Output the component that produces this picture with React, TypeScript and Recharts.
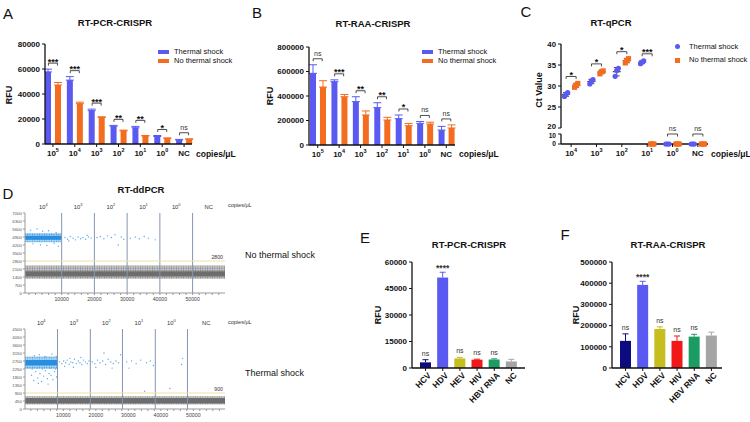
import React from "react";
import {
  BarChart,
  Bar,
  Cell,
  ComposedChart,
  Line,
  XAxis,
  YAxis,
  ErrorBar,
  ScatterChart,
  Scatter,
  ReferenceArea,
  ReferenceLine,
} from "recharts";

const FONT = '"Liberation Sans", Arial, Helvetica, sans-serif';
const INK = "#111";
const BLUE = "#5a5af2";
const ORANGE = "#f36c1f";

// A / B - dilution series, thermal shock vs no thermal shock
const dilutions = ["10^5", "10^4", "10^3", "10^2", "10^1", "10^0", "NC"];

const pcrThermal = [57700, 51100, 26700, 14300, 13000, 6000, 3200];
const pcrThermalSd = [2200, 2800, 1200, 600, 1100, 800, 500];
const pcrNoThermal = [47200, 32300, 21200, 10600, 6400, 4500, 3700];
const pcrNoThermalSd = [2000, 1200, 600, 500, 400, 400, 500];
const pcrSig = ["***", "***", "***", "**", "**", "*", "ns"];
const pcrTicks = [0, 20000, 40000, 60000, 80000];

const raaThermal = [585000, 517000, 354000, 305000, 215000, 177000, 122000];
const raaThermalSd = [70000, 15000, 40000, 40000, 30000, 15000, 30000];
const raaNoThermal = [473000, 394000, 245000, 204000, 158000, 171000, 139000];
const raaNoThermalSd = [52000, 18000, 33000, 22000, 18000, 15000, 25000];
const raaSig = ["ns", "***", "**", "**", "*", "ns", "ns"];
const raaTicks = [0, 200000, 400000, 600000, 800000];

// C - RT-qPCR Ct values, three replicates each
const qpcrCats = ["10^4", "10^3", "10^2", "10^1", "10^0", "NC"];
const qpcrThermal = [
  [27.5, 28.1, 28.4],
  [30.5, 31.2, 31.5],
  [32.3, 33.7, 34.2],
  [35.3, 35.7, 36.0],
  [0, 0, 0],
  [0, 0, 0],
];
const qpcrNoThermal = [
  [29.7, 30.2, 30.6],
  [32.9, 33.4, 33.6],
  [35.5, 36.1, 36.5],
  [0, 0, 0],
  [0, 0, 0],
  [0, 0, 0],
];
const qpcrSig = ["*", "*", "*", "***", "ns", "ns"];
const qpcrUpperTicks = [20, 25, 30, 35, 40];
const qpcrLowerTicks = [0, 10];

// D - RT-ddPCR droplet plots
const ddWellLabels = ["10^4", "10^3", "10^2", "10^1", "10^0", "NC"];
const ddXLabels = [10000, 20000, 30000, 40000, 50000];

const ddTopYTicks = [0, 700, 1400, 2100, 2800, 3500, 4200, 4900, 5600, 6300, 7000];
const ddTopDomain = [-1200, 59900];
const ddTopWells = [10000, 20000, 30000, 40000, 50000];
const ddTopThreshold = 2800;
const ddTopNeg = [1450, 1900];
const ddTopNegHalo = [1250, 2400];
const ddTopPos = [4650, 5000];
const ddTopPosHalo = [4450, 5250];
const ddTopDroplets = [
  [500, 5500], [2500, 5600], [4200, 5400], [6000, 5450], [8300, 5300],
  [1200, 4300], [3500, 4200], [5500, 4150], [7700, 4350], [9000, 4100],
  [11000, 4850], [11800, 4700], [12600, 4950], [13500, 4800], [14200, 4650],
  [15000, 4900], [15800, 4750], [16500, 4850], [17300, 4700], [18200, 4900],
  [19000, 4800], [12200, 4550], [17800, 5050], [20800, 4850], [21800, 4950],
  [22900, 4750], [24000, 5000], [25200, 4850], [26300, 5100], [27300, 4200],
  [28200, 4900], [29000, 4700], [31000, 4800], [32500, 4900], [33700, 4750],
  [35200, 4950], [36500, 4800], [38600, 4650],
];

const ddBotYTicks = [0, 450, 900, 1350, 1800, 2250, 2700, 3150, 3600, 4050, 4500];
const ddBotDomain = [-1800, 59750];
const ddBotWells = [8200, 18300, 28200, 38300, 48200];
const ddBotThreshold = 900;
const ddBotNeg = [330, 620];
const ddBotNegHalo = [250, 720];
const ddBotPos = [2450, 2750];
const ddBotPosHalo = [2250, 2950];
const ddBotDroplets = [
  [200, 1900], [900, 1600], [1500, 2100], [2100, 1750], [2800, 2000],
  [3300, 1550], [3900, 1850], [4500, 2150], [5100, 1700], [5600, 2000],
  [6200, 1900], [6800, 1650], [7300, 2100], [7900, 1800], [400, 2250],
  [1800, 2300], [3600, 2250], [5900, 2300], [7600, 2250], [1100, 3000],
  [2600, 3050], [4400, 2950], [6500, 3100], [7800, 2950], [2300, 1450],
  [5300, 1400], [8800, 2650], [9500, 2550], [10100, 2700], [10700, 2600],
  [11200, 2750], [11800, 2500], [12300, 2650], [12900, 2600], [13400, 2800],
  [14000, 2550], [14600, 2700], [15100, 2600], [15700, 2500], [16200, 2750],
  [16800, 2650], [17400, 2550], [17900, 2700], [10400, 2400], [13100, 2350],
  [15400, 2900], [12000, 2850], [18900, 2650], [19700, 2550], [20500, 2750],
  [21300, 2600], [22100, 2700], [23000, 2500], [23800, 2800], [24600, 2650],
  [25400, 2550], [26200, 2700], [27000, 2600], [27600, 3050], [22500, 3150],
  [25000, 2300], [20000, 2350], [29500, 2650], [31000, 2700], [32400, 2550],
  [33800, 2750], [35000, 1000], [35600, 2600], [36800, 2700], [37700, 2450],
  [30200, 2300], [42800, 1150], [46400, 2500], [46700, 2850],
];

// E / F - specificity
const viruses = ["HCV", "HDV", "HEV", "HIV", "HBV RNA", "NC"];
const virusColors = ["#0c0c80", "#5a5af2", "#c6bd1e", "#f01818", "#1b9c63", "#a5a5a5"];
const specSig = ["ns", "****", "ns", "ns", "ns", ""];
const pcrSpecMean = [3200, 51200, 5400, 4700, 4800, 3700];
const pcrSpecSd = [1500, 3000, 600, 300, 400, 1200];
const pcrSpecTicks = [0, 15000, 30000, 45000, 60000];
const raaSpecMean = [128000, 392000, 184000, 128000, 148000, 153000];
const raaSpecSd = [33000, 17000, 10000, 23000, 11000, 16000];
const raaSpecTicks = [0, 100000, 200000, 300000, 400000, 500000];

const Txt = ({ x, y, size = 9, bold = false, rotate = 0, anchor = "middle", color = INK, children }: any) => (
  <div
    style={{
      position: "absolute",
      left: x,
      top: y,
      transform: `translate(${anchor === "middle" ? "-50%" : anchor === "end" ? "-100%" : "0"},-50%)${rotate ? ` rotate(${rotate}deg)` : ""}`,
      fontSize: size,
      fontWeight: bold ? 700 : 400,
      color,
      whiteSpace: "nowrap",
      lineHeight: 1,
    }}
  >
    {children}
  </div>
);

const PowText = ({ x, y, label, size = 8, weight = 700, fill = INK }: any) => {
  const [base, exp] = String(label).split("^");
  return (
    <text x={x} y={y} textAnchor="middle" fontSize={size} fontWeight={weight} fill={fill}>
      {base}
      {exp !== undefined && (
        <tspan dy={-size * 0.45} fontSize={size * 0.68}>
          {exp}
        </tspan>
      )}
    </text>
  );
};

const axisLine = { stroke: INK, strokeWidth: 1.3 };
const tickLine = { stroke: INK, strokeWidth: 1 };
const yTick = { fontSize: 8, fontWeight: 700, fill: INK };

// y tick with a small vertical nudge for selected values (broken axis in C)
const nudgedTick = (size: number, nudge: Record<number, number>) => (p: any) => (
  <text x={p.x} y={p.y + (nudge[p.payload.value] || 0)} dy="0.355em" textAnchor="end" fontSize={size} fontWeight={700} fill={INK}>
    {p.payload.value}
  </text>
);

const sigMark = (offset: number, hw: number) => (props: any) => {
  const { cx, cy, payload, index } = props;
  if (cx == null || cy == null || !payload || !payload.sig) return <g key={`s${index}`} />;
  const y = cy - offset;
  const ns = payload.sig === "ns";
  return (
    <g key={`s${index}`}>
      <path d={`M${cx - hw},${y + 2.5}V${y}H${cx + hw}V${y + 2.5}`} fill="none" stroke="#222" strokeWidth={0.8} />
      <text x={cx} y={ns ? y - 3 : y + 1.5} textAnchor="middle" fontSize={ns ? 7 : 9} fontWeight={ns ? 400 : 700} fill={ns ? "#333" : INK}>
        {payload.sig}
      </text>
    </g>
  );
};

const pairRows = (t: number[], tSd: number[], n: number[], nSd: number[], sig: string[]) =>
  dilutions.map((cat, i) => ({
    cat,
    t: t[i],
    tErr: [0, tSd[i]],
    n: n[i],
    nErr: [0, nSd[i]],
    top: Math.max(t[i] + tSd[i], n[i] + nSd[i]),
    sig: sig[i],
  }));

const catTick = (props: any) => <PowText x={props.x} y={props.y + 7} label={props.payload.value} size={8} />;

function PairChart({ rows, ticks, yWidth, marginTop, marginRight, xHeight, pad }: any) {
  return (
    <ComposedChart width={250} height={165} data={rows} margin={{ top: marginTop, right: marginRight, bottom: 0, left: 0 }}>
      <XAxis dataKey="cat" height={xHeight} padding={{ left: pad, right: pad }} interval={0} tick={catTick} tickSize={3} axisLine={axisLine} tickLine={tickLine} />
      <YAxis width={yWidth} domain={[0, ticks[ticks.length - 1]]} ticks={ticks} interval={0} tick={yTick} tickSize={3} axisLine={axisLine} tickLine={tickLine} />
      <Bar dataKey="t" fill={BLUE} barSize={6} isAnimationActive={false}>
        <ErrorBar dataKey="tErr" width={4} stroke={BLUE} strokeWidth={1} direction="y" />
      </Bar>
      <Bar dataKey="n" fill={ORANGE} barSize={6} isAnimationActive={false}>
        <ErrorBar dataKey="nErr" width={4} stroke={ORANGE} strokeWidth={1} direction="y" />
      </Bar>
      <Line dataKey="top" stroke="none" dot={sigMark(6, 4.5)} activeDot={false} isAnimationActive={false} />
    </ComposedChart>
  );
}

const Legend2 = ({ x, y, square }: any) => (
  <>
    {square ? (
      <>
        <div style={{ position: "absolute", left: x - 2.5, top: y - 2.5, width: 5, height: 5, borderRadius: 3, background: BLUE }} />
        <div style={{ position: "absolute", left: x - 2.5, top: y + 13.3 - 2.5, width: 5, height: 5, background: ORANGE }} />
      </>
    ) : (
      <>
        <div style={{ position: "absolute", left: x, top: y - 2, width: 11, height: 4, background: BLUE }} />
        <div style={{ position: "absolute", left: x, top: y + 7, width: 11, height: 4, background: ORANGE }} />
      </>
    )}
    <Txt x={square ? x + 12 : x + 16} y={y} size={7.5} anchor="start">Thermal shock</Txt>
    <Txt x={square ? x + 12 : x + 16} y={square ? y + 13.3 : y + 9} size={7.5} anchor="start">No thermal shock</Txt>
  </>
);

// panel C helpers
const Q_OFF = 0.2;
const qPoints = (groups: number[][], off: number, keep: (v: number) => boolean) =>
  groups.flatMap((reps, i) => reps.map((v, j) => ({ x: i + off, y: v, rep: j }))).filter((p) => keep(p.y));
const qMeans = (groups: number[][], off: number) =>
  groups
    .map((reps, i) => {
      const m = reps.reduce((a, b) => a + b, 0) / reps.length;
      const sd = Math.sqrt(reps.reduce((a, b) => a + (b - m) * (b - m), 0) / (reps.length - 1));
      return { x: i + off, y: m, sd };
    })
    .filter((p) => p.y >= 20);
const qUpperSig = qpcrCats
  .map((_, i) => ({ x: i, y: Math.max(...qpcrThermal[i], ...qpcrNoThermal[i]), sig: qpcrSig[i] }))
  .filter((p) => p.y >= 20);
const qLowerSig = qpcrCats
  .map((_, i) => ({ x: i, y: qpcrLowerTicks[1], sig: qpcrSig[i], hi: Math.max(...qpcrThermal[i], ...qpcrNoThermal[i]) }))
  .filter((p) => p.hi < 20);

const circleShape = (p: any) => <circle cx={p.cx + (p.payload.rep - 1) * 1.6} cy={p.cy} r={2.6} fill={BLUE} />;
const squareShape = (p: any) => (
  <rect x={p.cx - 2.6 + (p.payload.rep - 1) * 1.6} y={p.cy - 2.6} width={5.2} height={5.2} fill={ORANGE} />
);
const meanShape = (p: any) => <line x1={p.cx - 4} x2={p.cx + 4} y1={p.cy} y2={p.cy} stroke="#222" strokeWidth={1} />;
const qTick = (props: any) => <PowText x={props.x} y={props.y + 7} label={qpcrCats[props.payload.value]} size={8} />;
const Q_DOMAIN = [-0.4, 5.4];

function QpcrUpper() {
  return (
    <ScatterChart width={250} height={136} margin={{ top: 44, right: 42, bottom: 8, left: 0 }}>
      <XAxis type="number" dataKey="x" domain={Q_DOMAIN} hide />
      <YAxis type="number" dataKey="y" width={61} domain={[20, 40]} ticks={qpcrUpperTicks} interval={0} tick={nudgedTick(7.8, { 20: -1.5 })} tickSize={3} axisLine={axisLine} tickLine={tickLine} />
      <Scatter data={qMeans(qpcrThermal, -Q_OFF)} shape={meanShape} isAnimationActive={false}>
        <ErrorBar dataKey="sd" direction="y" width={3} stroke="#222" strokeWidth={0.8} />
      </Scatter>
      <Scatter data={qMeans(qpcrNoThermal, Q_OFF)} shape={meanShape} isAnimationActive={false}>
        <ErrorBar dataKey="sd" direction="y" width={3} stroke="#222" strokeWidth={0.8} />
      </Scatter>
      <Scatter data={qPoints(qpcrThermal, -Q_OFF, (v) => v >= 20)} shape={circleShape} isAnimationActive={false} />
      <Scatter data={qPoints(qpcrNoThermal, Q_OFF, (v) => v >= 20)} shape={squareShape} isAnimationActive={false} />
      <Scatter data={qUpperSig} shape={sigMark(7, 5)} isAnimationActive={false} />
    </ScatterChart>
  );
}

function QpcrLower() {
  return (
    <ScatterChart width={250} height={47} margin={{ top: 16, right: 42, bottom: 0, left: 0 }}>
      <XAxis type="number" dataKey="x" domain={Q_DOMAIN} ticks={[0, 1, 2, 3, 4, 5]} interval={0} height={21} tick={qTick} tickSize={3} axisLine={axisLine} tickLine={tickLine} />
      <YAxis type="number" dataKey="y" width={61} domain={[0, 10]} ticks={qpcrLowerTicks} interval={0} tick={nudgedTick(6.6, { 10: 1.5 })} tickSize={3} axisLine={axisLine} tickLine={tickLine} />
      <Scatter data={qLowerSig} shape={sigMark(0, 5)} isAnimationActive={false} />
      <Scatter data={qPoints(qpcrThermal, -Q_OFF, (v) => v <= 10)} shape={circleShape} isAnimationActive={false} />
      <Scatter data={qPoints(qpcrNoThermal, Q_OFF, (v) => v <= 10)} shape={squareShape} isAnimationActive={false} />
    </ScatterChart>
  );
}

// panel D
const ddMinor = Array.from({ length: 30 }, (_, i) => i * 2000);
const dropShape = (p: any) => <circle cx={p.cx} cy={p.cy} r={0.7} fill="#5aa9ea" />;

function DdpcrPlot({ id, yTicks, domain, wells, threshold, neg, negHalo, pos, posHalo, droplets }: any) {
  const edges = [domain[0], ...wells, domain[1]];
  const centers = ddWellLabels.map((_, i) => (edges[i] + edges[i + 1]) / 2);
  const yMax = yTicks[yTicks.length - 1];
  const pts = droplets.map(([x, y]: number[]) => ({ x, y }));
  return (
    <ScatterChart width={260} height={110} margin={{ top: 8, right: 35, bottom: 0, left: 0 }}>
      <defs>
        <pattern id={`gray-${id}`} width="2.4" height="2.4" patternUnits="userSpaceOnUse">
          <rect width="2.4" height="2.4" fill="#c9c9c9" />
          <circle cx="1.2" cy="1.2" r="0.75" fill="#7a7a7a" />
        </pattern>
        <pattern id={`blue-${id}`} width="2.4" height="2.4" patternUnits="userSpaceOnUse">
          <rect width="2.4" height="2.4" fill="#b9dcf6" />
          <circle cx="1.2" cy="1.2" r="0.75" fill="#3b98e2" />
        </pattern>
      </defs>
      <XAxis
        xAxisId="cols"
        orientation="top"
        type="number"
        dataKey="x"
        domain={domain}
        ticks={centers}
        interval={0}
        height={10}
        tickSize={0}
        tickMargin={3}
        axisLine={false}
        tickLine={false}
        allowDataOverflow
        tick={(p: any) => <PowText x={p.x} y={p.y - 1.5} label={ddWellLabels[p.index]} size={5.8} weight={400} fill="#333" />}
      />
      <XAxis
        type="number"
        dataKey="x"
        domain={domain}
        ticks={ddMinor}
        interval={0}
        height={12}
        tickSize={2}
        tickMargin={1}
        axisLine={{ stroke: "#999" }}
        tickLine={{ stroke: "#999" }}
        allowDataOverflow
        tick={(p: any) =>
          ddXLabels.includes(p.payload.value) ? (
            <text x={p.x} y={p.y + 5} textAnchor="middle" fontSize={5.2} fill="#444">
              {p.payload.value}
            </text>
          ) : (
            <g />
          )
        }
      />
      <YAxis type="number" dataKey="y" width={25} domain={[0, yMax]} ticks={yTicks} interval={0} allowDataOverflow tick={{ fontSize: 4.4, fill: "#555" }} tickSize={2} tickMargin={1} axisLine={{ stroke: "#999" }} tickLine={{ stroke: "#999" }} />
      <ReferenceArea x1={domain[0]} x2={domain[1]} y1={negHalo[0]} y2={negHalo[1]} fill={`url(#gray-${id})`} fillOpacity={1} stroke="none" />
      <ReferenceArea x1={domain[0]} x2={domain[1]} y1={neg[0]} y2={neg[1]} fill="#6d6d6d" fillOpacity={1} stroke="none" />
      <ReferenceArea x1={domain[0]} x2={wells[0]} y1={posHalo[0]} y2={posHalo[1]} fill={`url(#blue-${id})`} fillOpacity={1} stroke="none" />
      <ReferenceArea x1={domain[0]} x2={wells[0]} y1={pos[0]} y2={pos[1]} fill="#2a8ee0" fillOpacity={1} stroke="none" />
      <Scatter data={pts} shape={dropShape} isAnimationActive={false} />
      {wells.map((w: number) => (
        <ReferenceLine key={w} x={w} stroke="#8496b2" strokeWidth={1} />
      ))}
      <ReferenceLine y={threshold} stroke="#efe2a2" strokeWidth={1} label={{ value: String(threshold), position: "insideBottomRight", offset: 2, fontSize: 5.2, fill: "#333" }} />
    </ScatterChart>
  );
}

// panels E / F
const specShape = (p: any) => {
  const { x, y, width, height, payload, fill } = p;
  const k = payload.mean > 0 ? height / payload.mean : 0;
  const top = y - payload.sd * k;
  const cx = x + width / 2;
  const stars = payload.sig && payload.sig !== "ns";
  return (
    <g>
      <rect x={x} y={y} width={width} height={height} fill={fill} />
      <line x1={cx} x2={cx} y1={y} y2={top} stroke={fill} strokeWidth={1} />
      <line x1={cx - 3} x2={cx + 3} y1={top} y2={top} stroke={fill} strokeWidth={1} />
      {payload.sig && (
        <text x={cx} y={stars ? top - 1.5 : top - 4} textAnchor="middle" fontSize={stars ? 8.5 : 7} fontWeight={stars ? 700 : 400} fill="#333">
          {payload.sig}
        </text>
      )}
    </g>
  );
};

const rotTick = (p: any) => (
  <g transform={`translate(${p.x + 3},${p.y})`}>
    <text x={0} y={0} dy="0.5em" transform="rotate(-45)" textAnchor="end" fontSize={8.5} fontWeight={700} fill={INK}>
      {p.payload.value}
    </text>
  </g>
);

function SpecChart({ mean, sd, ticks, marginRight, pad }: any) {
  const rows = viruses.map((name, i) => ({ name, mean: mean[i], sd: sd[i], sig: specSig[i] }));
  return (
    <BarChart width={190} height={190} data={rows} margin={{ top: 32, right: marginRight, bottom: 0, left: 0 }}>
      <XAxis dataKey="name" height={52} interval={0} padding={pad} tick={rotTick} tickSize={3} axisLine={axisLine} tickLine={tickLine} />
      <YAxis width={52} domain={[0, ticks[ticks.length - 1]]} ticks={ticks} interval={0} tick={yTick} tickSize={3} axisLine={axisLine} tickLine={tickLine} />
      <Bar dataKey="mean" barSize={11} shape={specShape} isAnimationActive={false}>
        {rows.map((r, i) => (
          <Cell key={r.name} fill={virusColors[i]} />
        ))}
      </Bar>
    </BarChart>
  );
}

const at = (left: number, top: number, child: React.ReactNode) => (
  <div style={{ position: "absolute", left, top }}>{child}</div>
);

export default function App() {
  const pcrRows = pairRows(pcrThermal, pcrThermalSd, pcrNoThermal, pcrNoThermalSd, pcrSig);
  const raaRows = pairRows(raaThermal, raaThermalSd, raaNoThermal, raaNoThermalSd, raaSig);
  return (
    <div style={{ position: "absolute", left: 0, top: 0, width: 750, height: 422, background: "#fff", overflow: "hidden", fontFamily: FONT, color: INK }}>
      {/* A */}
      {at(0, 0, <PairChart rows={pcrRows} ticks={pcrTicks} yWidth={45} marginTop={44} marginRight={58} xHeight={21} pad={-3} />)}
      <Txt x={8} y={13} size={15}>A</Txt>
      <Txt x={115} y={23} size={9.5} bold>RT-PCR-CRISPR</Txt>
      <Txt x={9} y={95} size={9} bold rotate={-90}>RFU</Txt>
      <Txt x={196} y={154} size={8.5} bold anchor="start">copies/μL</Txt>
      <Legend2 x={158} y={51.5} />

      {/* B */}
      {at(250, 0, <PairChart rows={raaRows} ticks={raaTicks} yWidth={59} marginTop={47} marginRight={45} xHeight={20} pad={-2} />)}
      <Txt x={257} y={12} size={15}>B</Txt>
      <Txt x={373} y={24} size={9.5} bold>RT-RAA-CRISPR</Txt>
      <Txt x={270} y={96} size={9} bold rotate={-90}>RFU</Txt>
      <Txt x={459} y={154} size={8.5} bold anchor="start">copies/μL</Txt>
      <Legend2 x={422} y={51.5} />

      {/* C */}
      {at(500, 0, <QpcrUpper />)}
      {at(500, 118, <QpcrLower />)}
      <Txt x={526} y={11} size={15}>C</Txt>
      <Txt x={611} y={23} size={9.5} bold>RT-qPCR</Txt>
      <Txt x={539} y={90} size={9} bold rotate={-90}>Ct Value</Txt>
      <Txt x={711} y={154} size={8.5} bold anchor="start">copies/μL</Txt>
      <Legend2 x={677} y={46.7} square />

      {/* D */}
      {at(
        0,
        195,
        <DdpcrPlot id="top" yTicks={ddTopYTicks} domain={ddTopDomain} wells={ddTopWells} threshold={ddTopThreshold} neg={ddTopNeg} negHalo={ddTopNegHalo} pos={ddTopPos} posHalo={ddTopPosHalo} droplets={ddTopDroplets} />
      )}
      {at(
        0,
        311,
        <DdpcrPlot id="bot" yTicks={ddBotYTicks} domain={ddBotDomain} wells={ddBotWells} threshold={ddBotThreshold} neg={ddBotNeg} negHalo={ddBotNegHalo} pos={ddBotPos} posHalo={ddBotPosHalo} droplets={ddBotDroplets} />
      )}
      <Txt x={8} y={193} size={15}>D</Txt>
      <Txt x={141} y={190} size={9.5} bold>RT-ddPCR</Txt>
      <Txt x={228} y={206} size={5.5} anchor="start" color="#333">copies/μL</Txt>
      <Txt x={228} y={323} size={5.5} anchor="start" color="#333">copies/μL</Txt>
      <Txt x={245} y={255} size={9} anchor="start">No thermal shock</Txt>
      <Txt x={245} y={373} size={9} anchor="start">Thermal shock</Txt>

      {/* E */}
      {at(360, 230, <SpecChart mean={pcrSpecMean} sd={pcrSpecSd} ticks={pcrSpecTicks} marginRight={25} pad={{ left: 5, right: 5 }} />)}
      <Txt x={365} y={237} size={15}>E</Txt>
      <Txt x={469} y={245} size={9.5} bold>RT-PCR-CRISPR</Txt>
      <Txt x={378} y={315} size={9} bold rotate={-90}>RFU</Txt>

      {/* F */}
      {at(560, 230, <SpecChart mean={raaSpecMean} sd={raaSpecSd} ticks={raaSpecTicks} marginRight={28} pad={{ left: 5, right: 2 }} />)}
      <Txt x={565} y={234} size={15}>F</Txt>
      <Txt x={668} y={245} size={9.5} bold>RT-RAA-CRISPR</Txt>
      <Txt x={576} y={315} size={9} bold rotate={-90}>RFU</Txt>
    </div>
  );
}
